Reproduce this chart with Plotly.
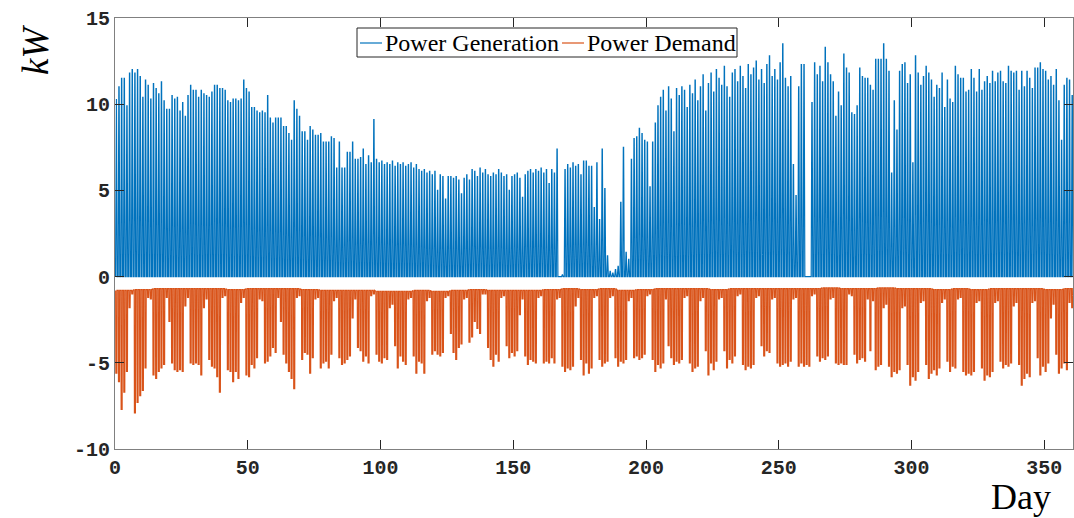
import plotly.graph_objects as go

# ---- data (daily values, day index 0..364) ----
days = list(range(365))

# daily peak of power generation (kW)
gen_peak = [
    10.3, 11.0, 11.5, 11.5, 9.9, 11.8, 12.0, 11.8, 12.0, 11.6,      # 0-9
    10.4, 11.4, 11.1, 10.3, 11.2, 10.9, 10.6, 11.3, 10.2, 9.7,      # 10-19
    9.7, 10.5, 10.3, 10.4, 9.6, 10.1, 9.3, 10.5, 11.1, 10.8,        # 20-29
    10.8, 10.4, 10.8, 10.6, 10.5, 10.4, 10.7, 11.1, 11.1, 10.9,     # 30-39
    10.9, 10.8, 10.2, 10.1, 10.3, 10.3, 10.2, 10.3, 11.4, 10.9,     # 40-49
    10.7, 9.8, 9.8, 9.6, 9.5, 9.6, 9.5, 10.5, 9.2, 8.9,             # 50-59
    9.2, 9.2, 9.2, 8.7, 8.7, 8.3, 7.9, 10.2, 9.7, 9.3,              # 60-69
    8.4, 8.4, 7.9, 8.7, 8.5, 8.2, 8.2, 8.3, 7.8, 7.8,               # 70-79
    7.8, 8.1, 8.0, 6.3, 7.8, 6.3, 6.3, 7.2, 7.2, 7.8,               # 80-89
    6.8, 6.8, 6.9, 7.4, 6.5, 7.0, 6.6, 9.1, 6.8, 6.6,               # 90-99
    6.7, 6.5, 6.6, 6.5, 6.7, 6.4, 6.6, 6.5, 6.6, 6.4,               # 100-109
    6.5, 6.6, 6.3, 6.5, 6.2, 6.1, 6.2, 6.0, 6.1, 5.9,               # 110-119
    6.1, 5.0, 5.9, 5.8, 4.5, 5.8, 5.8, 5.7, 5.8, 5.6,               # 120-129
    4.8, 5.7, 5.9, 5.6, 6.2, 6.1, 5.8, 6.3, 6.0, 6.2,               # 130-139
    5.9, 5.8, 6.0, 5.9, 6.2, 6.0, 5.8, 5.9, 5.0, 5.8,               # 140-149
    5.9, 6.0, 5.7, 4.6, 5.9, 6.1, 6.2, 6.0, 6.2, 6.1,               # 150-159
    6.3, 6.0, 6.2, 5.4, 6.2, 6.0, 7.4, 0.0, 0.1, 6.2,               # 160-169
    6.5, 6.3, 6.6, 6.4, 6.5, 5.9, 6.7, 6.7, 6.4, 6.4,               # 170-179
    4.0, 6.6, 3.3, 7.4, 5.1, 1.2, 0.3, 0.2, 0.4, 0.6,               # 180-189
    4.3, 7.5, 1.4, 1.0, 6.8, 8.0, 8.1, 8.6, 8.3, 7.9,               # 190-199
    7.8, 5.2, 7.8, 8.9, 9.9, 10.4, 10.8, 9.6, 11.0, 10.3,           # 200-209
    8.4, 10.9, 10.5, 11.0, 10.8, 9.8, 11.1, 10.6, 11.4, 10.2,       # 210-219
    11.0, 11.7, 9.6, 11.2, 11.8, 10.7, 12.0, 11.5, 11.1, 12.2,      # 220-229
    11.0, 10.4, 11.8, 12.0, 11.3, 12.2, 11.6, 10.9, 12.3, 11.7,     # 230-239
    12.1, 12.5, 11.4, 12.0, 11.2, 12.3, 12.8, 11.6, 12.0, 11.4,     # 240-249
    12.4, 13.5, 11.5, 11.0, 11.6, 6.5, 4.7, 11.0, 12.3, 12.3,       # 250-259
    0.0, 0.0, 10.1, 12.4, 11.7, 12.2, 11.3, 13.3, 12.4, 11.7,       # 260-269
    11.3, 9.3, 10.7, 9.9, 12.9, 12.1, 11.8, 9.5, 9.4, 9.9,          # 270-279
    12.1, 11.6, 11.5, 11.5, 11.1, 10.8, 12.6, 12.6, 12.6, 13.5,     # 280-289
    12.6, 11.9, 6.0, 10.2, 8.5, 11.9, 12.3, 12.4, 11.2, 11.7,       # 290-299
    6.6, 12.8, 11.8, 11.1, 11.6, 12.2, 11.8, 11.4, 10.4, 11.1,      # 300-309
    10.9, 11.8, 9.8, 11.4, 10.3, 10.1, 12.2, 11.7, 11.5, 11.5,      # 310-319
    10.7, 10.8, 12.0, 11.5, 10.7, 12.0, 10.8, 11.3, 11.6, 11.2,     # 320-329
    11.9, 11.3, 11.8, 11.9, 11.3, 11.2, 12.2, 11.9, 11.8, 11.9,     # 330-339
    10.8, 11.9, 11.0, 11.9, 11.5, 10.9, 12.1, 12.1, 12.4, 12.0,     # 340-349
    11.9, 11.4, 11.6, 11.1, 12.0, 10.2, 7.9, 11.1, 11.5, 11.4,      # 350-359
    10.5, 11.0, 11.3, 10.8, 11.5,                                   # 360-364
]

# daily deepest value of power demand (kW, negative)
demand_min = [
    -5.6, -6.1, -7.7, -6.7, -5.5, -1.8, -1.0,     # 0-6
    -7.9, -7.3, -6.9, -6.6, -5.3, -1.2, -1.3,     # 7-13
    -5.7, -5.9, -5.5, -5.3, -5.1, -1.2, -2.6,     # 14-20
    -5.0, -5.4, -5.5, -5.4, -5.5, -1.7, -1.2,     # 21-27
    -5.0, -5.1, -5.0, -5.1, -5.7, -1.8, -1.3,     # 28-34
    -4.8, -5.2, -5.3, -5.8, -6.7, -1.2, -1.1,     # 35-41
    -5.4, -5.5, -6.1, -5.5, -5.9, -1.5, -1.2,     # 42-48
    -5.7, -5.8, -5.1, -5.3, -4.7, -1.3, -1.4,     # 49-55
    -5.0, -4.9, -4.6, -4.1, -4.4, -1.2, -2.6,     # 56-62
    -4.5, -5.0, -5.5, -5.9, -6.5, -1.2, -1.1,     # 63-69
    -4.8, -4.4, -4.5, -5.6, -4.7, -1.3, -1.2,     # 70-76
    -5.3, -5.0, -4.9, -5.3, -4.5, -1.4, -1.2,     # 77-83
    -4.7, -5.1, -5.0, -4.8, -4.6, -2.4, -1.3,     # 84-90
    -4.1, -4.3, -4.9, -4.6, -5.0, -1.1, -1.0,     # 91-97
    -4.5, -4.9, -5.0, -4.7, -4.8, -1.8, -1.6,     # 98-104
    -4.0, -5.3, -4.6, -4.9, -5.1, -1.3, -1.2,     # 105-111
    -4.6, -5.6, -4.9, -5.0, -5.6, -1.4, -1.2,     # 112-118
    -4.5, -4.3, -4.5, -4.6, -4.4, -1.2, -1.1,     # 119-125
    -3.3, -4.4, -4.8, -4.1, -3.9, -1.3, -1.2,     # 126-132
    -3.8, -3.5, -2.6, -3.0, -3.3, -1.0, -1.0,     # 133-139
    -4.1, -4.8, -5.2, -4.5, -4.9, -1.2, -1.1,     # 140-146
    -4.0, -4.7, -4.4, -4.6, -4.3, -2.2, -1.3,     # 147-153
    -4.6, -5.1, -4.8, -4.9, -5.0, -1.2, -1.1,     # 154-160
    -5.0, -4.9, -5.0, -4.7, -5.0, -1.3, -1.2,     # 161-167
    -5.2, -5.5, -5.3, -5.4, -5.2, -1.7, -1.2,     # 168-174
    -4.8, -5.7, -5.0, -5.6, -5.3, -1.2, -1.1,     # 175-181
    -4.8, -5.2, -5.0, -4.9, -1.2, -1.1,           # 182-187
    -4.7, -5.2, -4.9, -5.0, -4.8, -1.4, -1.2,     # 188-194
    -4.7, -4.6, -4.8, -4.7, -4.5, -1.1, -1.0,     # 195-201
    -4.8, -5.5, -5.1, -5.3, -5.0, -1.3, -4.0,     # 202-208
    -4.7, -5.1, -4.9, -5.0, -4.8, -1.2, -1.1,     # 209-215
    -5.0, -5.5, -5.3, -5.2, -1.4, -1.2,           # 216-221
    -4.3, -5.7, -5.0, -5.4, -4.9, -1.3, -1.2,     # 222-228
    -4.3, -5.3, -4.8, -5.0, -4.6, -1.1, -1.0,     # 229-235
    -5.1, -5.4, -5.2, -5.3, -5.1, -1.2, -1.1,     # 236-242
    -4.0, -4.6, -4.3, -4.4, -1.3, -1.2,           # 243-248
    -5.0, -5.2, -5.1, -5.0, -5.2, -4.9, -1.3, -1.2,   # 249-256
    -5.2, -5.0, -5.2, -5.1, -5.2, -1.1, -1.0,     # 257-263
    -4.6, -4.9, -4.7, -4.8, -4.6, -1.3, -1.2,     # 264-270
    -5.0, -5.1, -5.0, -5.1, -5.1, -1.0, -1.1,     # 271-277
    -4.5, -5.0, -4.8, -4.7, -4.9, -1.3, -4.3, -1.4,   # 278-285
    -5.4, -5.2, -5.1, -1.8, -1.6,                 # 286-290
    -5.2, -5.8, -5.5, -5.6, -5.4, -1.8, -1.7,     # 291-297
    -5.1, -6.3, -5.8, -6.0, -5.5, -1.5, -1.4,     # 298-304
    -5.1, -5.9, -5.6, -5.4, -5.7, -5.3, -1.5, -1.3,   # 305-312
    -4.9, -5.5, -5.2, -5.3, -1.3, -1.2,           # 313-318
    -5.5, -5.7, -5.6, -5.7, -5.5, -1.5, -1.4,     # 319-325
    -5.3, -6.0, -5.7, -5.8, -5.5, -1.5, -1.4,     # 326-332
    -4.9, -5.3, -5.1, -5.2, -5.0, -1.7, -1.5,     # 333-339
    -5.1, -6.3, -5.9, -5.6, -5.8, -1.5, -1.4,     # 340-346
    -4.7, -5.7, -5.2, -5.5, -5.0, -2.4, -1.6,     # 347-353
    -4.5, -5.6, -5.3, -5.0, -5.4, -1.5, -1.8,     # 354-360
    -1.0, -0.6, -0.5, -0.5,                       # 361-364
]

# night-time (base) demand, one value per week (kW)
demand_night_weekly = [
    -0.8, -0.75, -0.7, -0.7, -0.7, -0.7, -0.75, -0.7, -0.7, -0.7,
    -0.75, -0.8, -0.8, -0.8, -0.85, -0.85, -0.8, -0.85, -0.8, -0.75,
    -0.8, -0.8, -0.8, -0.75, -0.7, -0.75, -0.7, -0.8, -0.75, -0.7,
    -0.7, -0.7, -0.75, -0.7, -0.7, -0.7, -0.7, -0.7, -0.65, -0.7,
    -0.7, -0.65, -0.7, -0.7, -0.75, -0.7, -0.75, -0.7, -0.7, -0.7,
    -0.75, -0.7, -0.6,
]

x_ticks = [0, 50, 100, 150, 200, 250, 300, 350]
y_ticks = [-10, -5, 0, 5, 10, 15]
y_tick_text = ["-10", "-5", "0", "5", "10", "15"]
series_names = ["Power Generation", "Power Demand"]

# ---- build the day-shaped series from the daily values ----
n = min(len(days), len(gen_peak), len(demand_min))
gx, gy, dx, dy = [], [], [], []
for i in range(n):
    d = days[i]
    gx += [d + 0.2, d + 0.45, d + 0.55, d + 0.8]
    gy += [0.0, gen_peak[i], gen_peak[i], 0.0]
    base = demand_night_weekly[min(i // 7, len(demand_night_weekly) - 1)]
    dx += [d + 0.25, d + 0.32, d + 0.68, d + 0.75]
    dy += [base, demand_min[i], demand_min[i], base]

BLUE = "#0072BD"
ORANGE = "#D95319"

fig = go.Figure()
fig.add_trace(go.Scatter(x=gx, y=gy, mode="lines", name=series_names[0],
                         line=dict(color=BLUE, width=1.2), showlegend=False))
fig.add_trace(go.Scatter(x=dx, y=dy, mode="lines", name=series_names[1],
                         line=dict(color=ORANGE, width=1.2), showlegend=False))

tick_font = dict(family="Liberation Mono", size=20, color="#262626", weight="bold")
axis_common = dict(showgrid=False, zeroline=False, showline=True, linecolor="#808080",
                   linewidth=1, mirror="ticks", ticks="inside", ticklen=9,
                   tickcolor="#262626", tickwidth=1, tickfont=tick_font)

W, H = 1074, 518
ML, MR, MT, MB = 115, 1, 18, 69
pw, ph = W - ML - MR, H - MT - MB


def px(xp):
    return (xp - ML) / pw


def py(yp):
    return (H - MB - yp) / ph


# legend drawn as box + line samples + labels (pixel layout of the reference)
shapes = [
    dict(type="rect", xref="paper", yref="paper", x0=px(357), x1=px(737),
         y0=py(57), y1=py(28), line=dict(color="#262626", width=1), fillcolor="white",
         layer="above"),
    dict(type="line", xref="paper", yref="paper", x0=px(360), x1=px(382),
         y0=py(43), y1=py(43), line=dict(color=BLUE, width=1.2), layer="above"),
    dict(type="line", xref="paper", yref="paper", x0=px(562), x1=px(584),
         y0=py(43), y1=py(43), line=dict(color=ORANGE, width=1.2), layer="above"),
]

leg_font = dict(family="Liberation Serif", size=24, color="black")
annotations = [
    dict(text=series_names[0], x=px(383), y=py(43), xref="paper", yref="paper",
         xanchor="left", yanchor="middle", showarrow=False, font=leg_font),
    dict(text=series_names[1], x=px(585), y=py(43), xref="paper", yref="paper",
         xanchor="left", yanchor="middle", showarrow=False, font=leg_font),
    dict(text="<i>kW</i>", x=px(35), y=py(50), xref="paper", yref="paper",
         xanchor="center", yanchor="middle", showarrow=False, textangle=-90,
         font=dict(family="Liberation Serif", size=37, color="black")),
    dict(text="Day", x=px(1021), y=py(497), xref="paper", yref="paper",
         xanchor="center", yanchor="middle", showarrow=False,
         font=dict(family="Liberation Serif", size=36, color="black")),
]

fig.update_layout(
    width=W, height=H,
    margin=dict(l=ML, r=MR, t=MT, b=MB),
    paper_bgcolor="white", plot_bgcolor="white",
    showlegend=False,
    xaxis=dict(range=[0, 360.8], tickvals=x_ticks,
               ticktext=[str(v) for v in x_ticks], **axis_common),
    yaxis=dict(range=[-10, 15], tickvals=y_ticks, ticktext=y_tick_text,
               ticksuffix=" ", **axis_common),
    shapes=shapes,
    annotations=annotations,
)

fig.write_html("out.html")
